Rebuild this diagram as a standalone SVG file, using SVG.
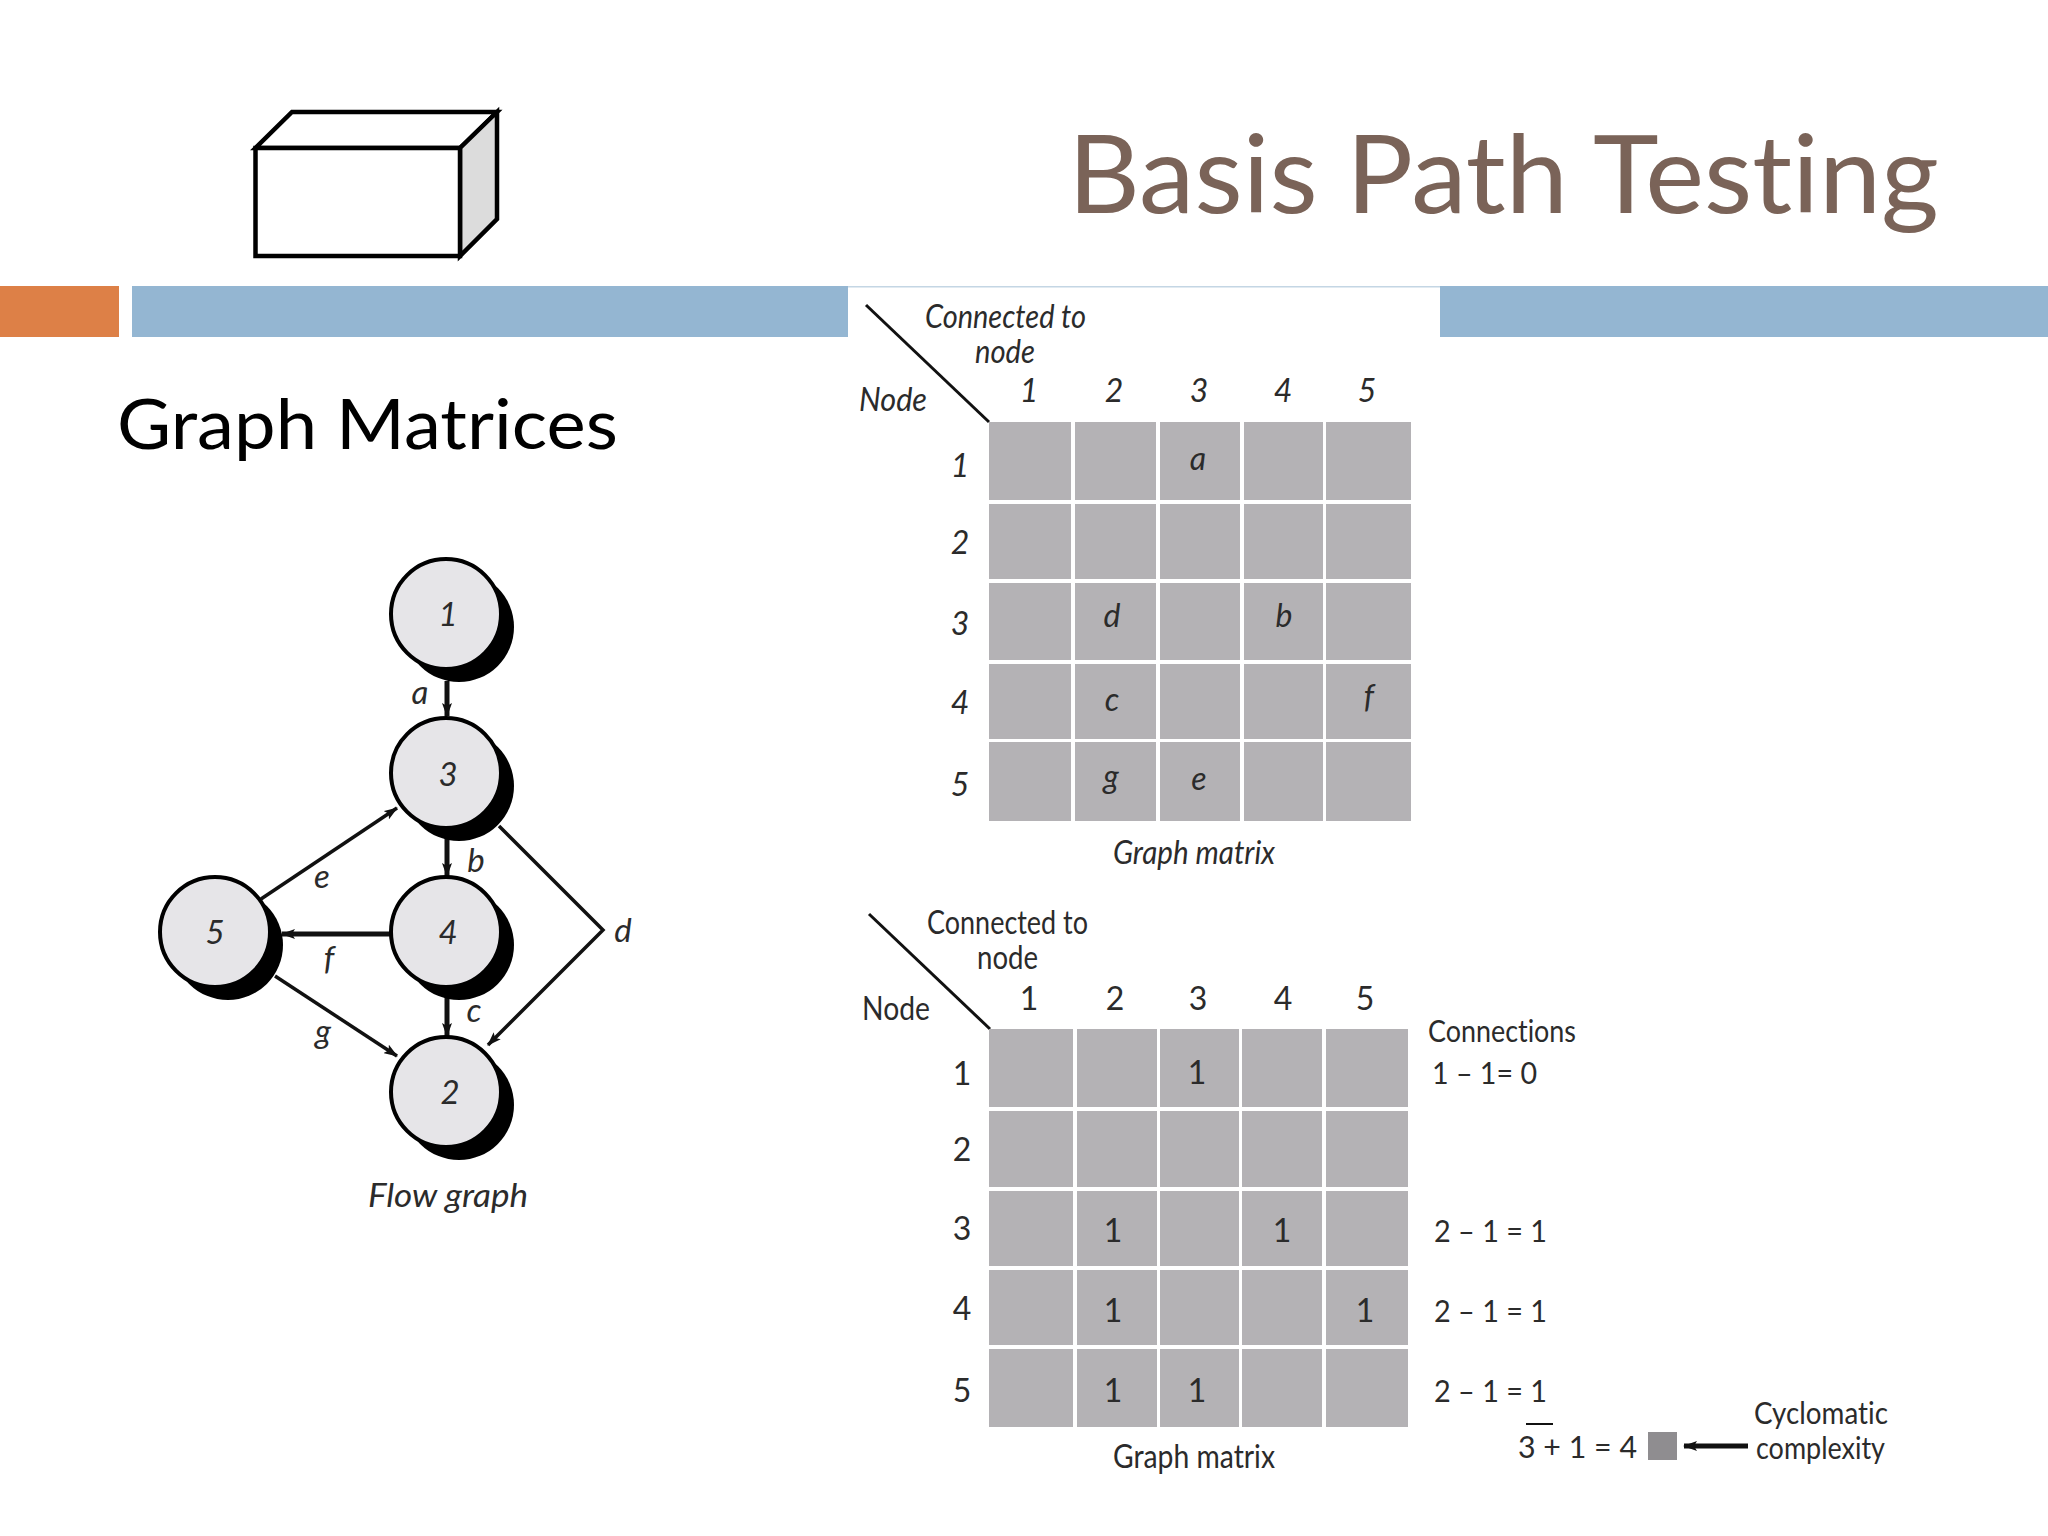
<svg xmlns="http://www.w3.org/2000/svg" width="2048" height="1536" viewBox="0 0 2048 1536">
<style>
text{font-family:"Lato","Liberation Sans",sans-serif;fill:#2b2b2b;font-variant-ligatures:none}
.it{font-style:italic}
.m{text-anchor:middle}
.f{font-size:32px}
.l{font-size:33px}
.cell{fill:#b4b2b5}
.sh{fill:#000}
.nd{fill:#e6e5e8;stroke:#000;stroke-width:4}
.e{fill:none;stroke:#111;stroke-width:3.5}
.v{fill:none;stroke:#111;stroke-width:5}
.t{fill:none;stroke:#111;stroke-width:3}
.box{fill:#fff;stroke:#000;stroke-width:4.5;stroke-linejoin:miter}
</style>
<defs>
<marker id="ah" viewBox="0 0 14 10" refX="13" refY="5" markerWidth="14" markerHeight="10" markerUnits="userSpaceOnUse" orient="auto"><path d="M0 0L14 5L0 10L3 5Z" fill="#111"/></marker>
</defs>
<rect width="2048" height="1536" fill="#fff"/>
<g id="header">
<rect x="0" y="286" width="119" height="51" fill="#dd8047"/>
<rect x="132" y="286" width="716" height="51" fill="#94b6d2"/>
<rect x="1440" y="286" width="608" height="51" fill="#94b6d2"/>
<rect x="848" y="286" width="592" height="1.5" fill="#c4d6e4"/>
</g>
<g id="cuboid">
<path class="box" d="M255.500 148L292 112H497L460 148Z"/>
<path class="box" style="fill:#dcdcdc" d="M460 148L497 112V219L460 256Z"/>
<rect class="box" x="255.500" y="148" width="204.500" height="108"/>
</g>
<text id="title" x="1068" y="213" font-size="108" textLength="871" lengthAdjust="spacingAndGlyphs" style="fill:#7a6358">Basis Path Testing</text>
<text id="subtitle" x="117" y="449" font-size="70" textLength="501" lengthAdjust="spacingAndGlyphs" style="fill:#000">Graph Matrices</text>

<g id="connectors">
<path class="v" marker-end="url(#ah)" d="M447 681V716"/>
<path class="v" marker-end="url(#ah)" d="M447 828V876"/>
<path class="v" marker-end="url(#ah)" d="M447 990V1036"/>
<path class="e" marker-end="url(#ah)" d="M261 899L397 808"/>
<path class="v" marker-end="url(#ah)" d="M391 934H282"/>
<path class="e" marker-end="url(#ah)" d="M275 976L397 1056"/>
<path class="e" marker-end="url(#ah)" d="M499 826L603 930L488 1045"/>
</g>
<g id="node1"><circle class="sh" cx="459" cy="627" r="55"/><circle class="nd" cx="446" cy="614" r="55"/><text class="it m l" x="448" y="626">1</text></g>
<g id="node3"><circle class="sh" cx="459" cy="786" r="55"/><circle class="nd" cx="446" cy="773" r="55"/><text class="it m l" x="448" y="786">3</text></g>
<g id="node4"><circle class="sh" cx="459" cy="945" r="55"/><circle class="nd" cx="446" cy="932" r="55"/><text class="it m l" x="448" y="944">4</text></g>
<g id="node2"><circle class="sh" cx="459" cy="1105" r="55"/><circle class="nd" cx="446" cy="1092" r="55"/><text class="it m l" x="450" y="1104">2</text></g>
<g id="node5"><circle class="sh" cx="228" cy="945" r="55"/><circle class="nd" cx="215" cy="932" r="55"/><text class="it m l" x="215" y="944">5</text></g>
<g id="edge-labels">
<text class="it m l" x="420" y="704">a</text>
<text class="it m l" x="476" y="872">b</text>
<text class="it m l" x="474" y="1022">c</text>
<text class="it m l" x="623" y="942">d</text>
<text class="it m l" x="322" y="888">e</text>
<text class="it m l" x="329" y="970">f</text>
<text class="it m l" x="323" y="1043">g</text>
<text class="it" x="368" y="1207" font-size="33" textLength="160" lengthAdjust="spacingAndGlyphs">Flow graph</text>
</g>

<g id="matrix-top">
<path class="t" d="M866 305L989 422"/>
<g>
<rect class="cell" x="989" y="422" width="82" height="78"/><rect class="cell" x="1075" y="422" width="81" height="78"/><rect class="cell" x="1160" y="422" width="80" height="78"/><rect class="cell" x="1244" y="422" width="79" height="78"/><rect class="cell" x="1326" y="422" width="85" height="78"/>
<rect class="cell" x="989" y="504" width="82" height="75"/><rect class="cell" x="1075" y="504" width="81" height="75"/><rect class="cell" x="1160" y="504" width="80" height="75"/><rect class="cell" x="1244" y="504" width="79" height="75"/><rect class="cell" x="1326" y="504" width="85" height="75"/>
<rect class="cell" x="989" y="583" width="82" height="77"/><rect class="cell" x="1075" y="583" width="81" height="77"/><rect class="cell" x="1160" y="583" width="80" height="77"/><rect class="cell" x="1244" y="583" width="79" height="77"/><rect class="cell" x="1326" y="583" width="85" height="77"/>
<rect class="cell" x="989" y="664" width="82" height="75"/><rect class="cell" x="1075" y="664" width="81" height="75"/><rect class="cell" x="1160" y="664" width="80" height="75"/><rect class="cell" x="1244" y="664" width="79" height="75"/><rect class="cell" x="1326" y="664" width="85" height="75"/>
<rect class="cell" x="989" y="742" width="82" height="79"/><rect class="cell" x="1075" y="742" width="81" height="79"/><rect class="cell" x="1160" y="742" width="80" height="79"/><rect class="cell" x="1244" y="742" width="79" height="79"/><rect class="cell" x="1326" y="742" width="85" height="79"/>
</g>
<text class="it f" x="925" y="328" textLength="161" lengthAdjust="spacingAndGlyphs">Connected to</text>
<text class="it f" x="975" y="363" textLength="60" lengthAdjust="spacingAndGlyphs">node</text>
<text class="it f" x="859" y="411" textLength="68" lengthAdjust="spacingAndGlyphs">Node</text>
<text class="it f m" x="1029" y="402">1</text><text class="it f m" x="1114" y="402">2</text><text class="it f m" x="1199" y="402">3</text><text class="it f m" x="1283" y="402">4</text><text class="it f m" x="1367" y="402">5</text>
<text class="it f m" x="960" y="477">1</text><text class="it f m" x="960" y="554">2</text><text class="it f m" x="960" y="635">3</text><text class="it f m" x="960" y="714">4</text><text class="it f m" x="960" y="796">5</text>
<text class="it f m" x="1198" y="470">a</text>
<text class="it f m" x="1112" y="627">d</text><text class="it f m" x="1284" y="627">b</text>
<text class="it f m" x="1112" y="711">c</text><text class="it f m" x="1369" y="708">f</text>
<text class="it f m" x="1111" y="788">g</text><text class="it f m" x="1199" y="790">e</text>
<text class="it" x="1113" y="864" font-size="32" textLength="162" lengthAdjust="spacingAndGlyphs">Graph matrix</text>
</g>

<g id="matrix-bottom">
<path class="t" d="M869 914L990 1029"/>
<g>
<rect class="cell" x="989" y="1029" width="84" height="78"/><rect class="cell" x="1077" y="1029" width="80" height="78"/><rect class="cell" x="1160" y="1029" width="79" height="78"/><rect class="cell" x="1242" y="1029" width="80" height="78"/><rect class="cell" x="1326" y="1029" width="82" height="78"/>
<rect class="cell" x="989" y="1111" width="84" height="76"/><rect class="cell" x="1077" y="1111" width="80" height="76"/><rect class="cell" x="1160" y="1111" width="79" height="76"/><rect class="cell" x="1242" y="1111" width="80" height="76"/><rect class="cell" x="1326" y="1111" width="82" height="76"/>
<rect class="cell" x="989" y="1191" width="84" height="75"/><rect class="cell" x="1077" y="1191" width="80" height="75"/><rect class="cell" x="1160" y="1191" width="79" height="75"/><rect class="cell" x="1242" y="1191" width="80" height="75"/><rect class="cell" x="1326" y="1191" width="82" height="75"/>
<rect class="cell" x="989" y="1270" width="84" height="75"/><rect class="cell" x="1077" y="1270" width="80" height="75"/><rect class="cell" x="1160" y="1270" width="79" height="75"/><rect class="cell" x="1242" y="1270" width="80" height="75"/><rect class="cell" x="1326" y="1270" width="82" height="75"/>
<rect class="cell" x="989" y="1349" width="84" height="78"/><rect class="cell" x="1077" y="1349" width="80" height="78"/><rect class="cell" x="1160" y="1349" width="79" height="78"/><rect class="cell" x="1242" y="1349" width="80" height="78"/><rect class="cell" x="1326" y="1349" width="82" height="78"/>
</g>
<text class="f" x="927" y="934" textLength="161" lengthAdjust="spacingAndGlyphs">Connected to</text>
<text class="f" x="977" y="969" textLength="61" lengthAdjust="spacingAndGlyphs">node</text>
<text class="f" x="862" y="1020" textLength="68" lengthAdjust="spacingAndGlyphs">Node</text>
<text class="f m" x="1029" y="1010">1</text><text class="f m" x="1115" y="1010">2</text><text class="f m" x="1198" y="1010">3</text><text class="f m" x="1283" y="1010">4</text><text class="f m" x="1365" y="1010">5</text>
<text class="f m" x="962" y="1085">1</text><text class="f m" x="962" y="1161">2</text><text class="f m" x="962" y="1240">3</text><text class="f m" x="962" y="1320">4</text><text class="f m" x="962" y="1402">5</text>
<text class="f m" x="1197" y="1084">1</text>
<text class="f m" x="1113" y="1242">1</text><text class="f m" x="1282" y="1242">1</text>
<text class="f m" x="1113" y="1322">1</text><text class="f m" x="1365" y="1322">1</text>
<text class="f m" x="1113" y="1402">1</text><text class="f m" x="1197" y="1402">1</text>
<text x="1113" y="1468" font-size="32" textLength="162" lengthAdjust="spacingAndGlyphs">Graph matrix</text>
<text x="1428" y="1042" font-size="30" textLength="148" lengthAdjust="spacingAndGlyphs">Connections</text>
<text x="1432" y="1084" font-size="30" textLength="105" lengthAdjust="spacingAndGlyphs">1 – 1= 0</text>
<text x="1434" y="1242" font-size="30" textLength="113" lengthAdjust="spacingAndGlyphs">2 – 1 = 1</text>
<text x="1434" y="1322" font-size="30" textLength="113" lengthAdjust="spacingAndGlyphs">2 – 1 = 1</text>
<text x="1434" y="1402" font-size="30" textLength="113" lengthAdjust="spacingAndGlyphs">2 – 1 = 1</text>
<path d="M1526 1424H1553" stroke="#111" stroke-width="2" fill="none"/>
<text x="1518" y="1458" font-size="30" textLength="119" lengthAdjust="spacingAndGlyphs">3 + 1 = 4</text>
<rect x="1648" y="1432" width="29" height="28" fill="#8f8d90"/>
<path class="v" marker-end="url(#ah)" d="M1748 1446H1684"/>
<text x="1754" y="1424" font-size="30" textLength="134" lengthAdjust="spacingAndGlyphs">Cyclomatic</text>
<text x="1756" y="1459" font-size="30" textLength="129" lengthAdjust="spacingAndGlyphs">complexity</text>
</g>
</svg>
